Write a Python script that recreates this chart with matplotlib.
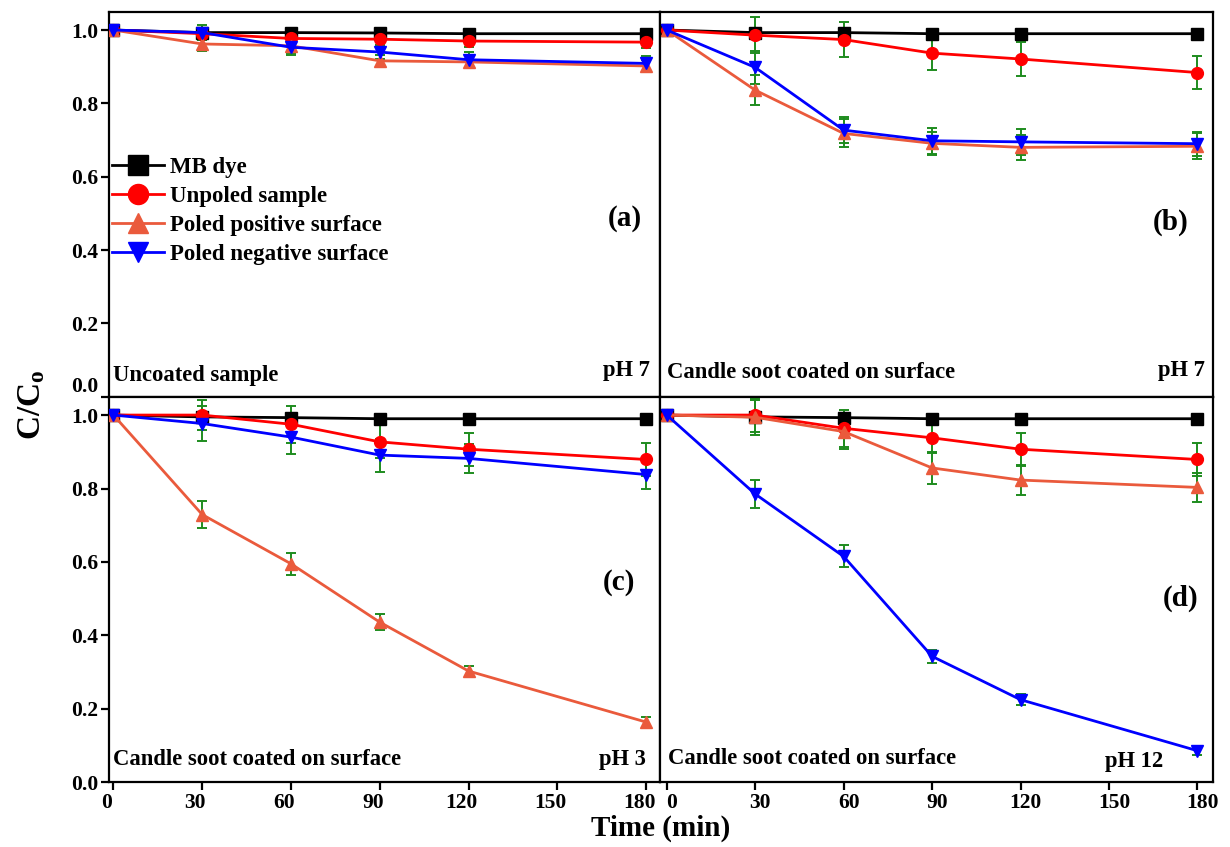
import matplotlib
matplotlib.use("Agg")
import matplotlib.pyplot as plt
import matplotlib.transforms as mtransforms

plt.rcParams['font.family'] = ['Liberation Serif', 'DejaVu Serif']
plt.rcParams['font.weight'] = 'bold'
plt.rcParams['mathtext.fontset'] = 'custom'
plt.rcParams['mathtext.rm'] = 'Liberation Serif:bold'
plt.rcParams['mathtext.it'] = 'Liberation Serif:bold'
plt.rcParams['mathtext.bf'] = 'Liberation Serif:bold'

# ---------------- data ----------------
time = [0, 30, 60, 90, 120, 180]
series_labels = ["MB dye", "Unpoled sample", "Poled positive surface", "Poled negative surface"]
x_ticks = [0, 30, 60, 90, 120, 150, 180]
y_ticks = [0.0, 0.2, 0.4, 0.6, 0.8, 1.0]

a_mb = [1.0, 0.993, 0.993, 0.992, 0.990, 0.990]
a_unpoled = [1.0, 0.990, 0.977, 0.975, 0.970, 0.967]
a_pos = [1.0, 0.962, 0.957, 0.916, 0.913, 0.902]
a_neg = [1.0, 0.993, 0.953, 0.940, 0.919, 0.909]
a_mb_err = [0, 0.005, 0.005, 0.005, 0.005, 0.005]
a_unpoled_err = [0, 0.015, 0.015, 0.015, 0.015, 0.015]
a_pos_err = [0, 0.02, 0.02, 0.015, 0.015, 0.015]
a_neg_err = [0, 0.02, 0.02, 0.02, 0.02, 0.02]

b_mb = [1.0, 0.993, 0.993, 0.990, 0.990, 0.990]
b_unpoled = [1.0, 0.986, 0.974, 0.937, 0.921, 0.884]
b_pos = [1.0, 0.836, 0.718, 0.691, 0.680, 0.683]
b_neg = [1.0, 0.898, 0.727, 0.698, 0.695, 0.690]
b_mb_err = [0, 0.005, 0.005, 0.005, 0.005, 0.005]
b_unpoled_err = [0, 0.05, 0.048, 0.045, 0.046, 0.044]
b_pos_err = [0, 0.041, 0.038, 0.031, 0.035, 0.035]
b_neg_err = [0, 0.045, 0.036, 0.035, 0.036, 0.033]

c_mb = [1.0, 0.995, 0.993, 0.990, 0.990, 0.990]
c_unpoled = [1.0, 1.0, 0.975, 0.927, 0.907, 0.879]
c_pos = [1.0, 0.729, 0.595, 0.436, 0.303, 0.164]
c_neg = [1.0, 0.977, 0.940, 0.891, 0.882, 0.838]
c_mb_err = [0, 0.005, 0.005, 0.005, 0.005, 0.005]
c_unpoled_err = [0, 0.04, 0.05, 0.045, 0.045, 0.045]
c_pos_err = [0, 0.036, 0.03, 0.022, 0.015, 0.015]
c_neg_err = [0, 0.048, 0.045, 0.045, 0.04, 0.04]

d_mb = [1.0, 0.995, 0.993, 0.990, 0.990, 0.990]
d_unpoled = [1.0, 1.0, 0.964, 0.938, 0.907, 0.879]
d_pos = [1.0, 0.994, 0.955, 0.856, 0.823, 0.803]
d_neg = [1.0, 0.785, 0.615, 0.343, 0.225, 0.086]
d_mb_err = [0, 0.005, 0.005, 0.005, 0.005, 0.005]
d_unpoled_err = [0, 0.045, 0.05, 0.04, 0.045, 0.045]
d_pos_err = [0, 0.048, 0.048, 0.043, 0.04, 0.04]
d_neg_err = [0, 0.038, 0.03, 0.017, 0.015, 0.013]

panels = {
    'a': ([a_mb, a_unpoled, a_pos, a_neg], [a_mb_err, a_unpoled_err, a_pos_err, a_neg_err]),
    'b': ([b_mb, b_unpoled, b_pos, b_neg], [b_mb_err, b_unpoled_err, b_pos_err, b_neg_err]),
    'c': ([c_mb, c_unpoled, c_pos, c_neg], [c_mb_err, c_unpoled_err, c_pos_err, c_neg_err]),
    'd': ([d_mb, d_unpoled, d_pos, d_neg], [d_mb_err, d_unpoled_err, d_pos_err, d_neg_err]),
}

colors = ['#000000', '#FF0000', '#EA5A3C', '#0000FF']
markers = ['s', 'o', '^', 'v']
err_color = '#1E8C1E'

# ---------------- layout ----------------
W, H = 1230, 847
fig = plt.figure(figsize=(W / 100, H / 100), dpi=100)

xl, xm, xr = 109.3, 660.0, 1213.3
yt, ym, yb = 11.7, 396.7, 782.3

def fax(x0, x1, y0, y1):
    return fig.add_axes([x0 / W, 1 - y1 / H, (x1 - x0) / W, (y1 - y0) / H])

ax_a = fax(xl, xm, yt, ym)
ax_b = fax(xm, xr, yt, ym)
ax_c = fax(xl, xm, ym, yb)
ax_d = fax(xm, xr, ym, yb)
axes = {'a': ax_a, 'b': ax_b, 'c': ax_c, 'd': ax_d}

TICK_FS = 15.5

for key, ax in axes.items():
    vals, errs = panels[key]
    for v, e, c, m, lab in zip(vals, errs, colors, markers, series_labels):
        ax.errorbar(time, v, yerr=e, fmt='none', ecolor=err_color, elinewidth=1.4,
                    capsize=3.8, capthick=1.4, zorder=2)
        ax.plot(time, v, color=c, marker=m, markersize=8.5, linewidth=2.0,
                label=lab, zorder=3)
    ax.set_ylim(0, 1.05)
    if key in ('a', 'c'):
        ax.set_xlim(-1.4, 184.7)
    else:
        ax.set_xlim(-2.3, 185.4)
    ax.set_xticks(x_ticks)
    ax.set_yticks(y_ticks)
    for s in ax.spines.values():
        s.set_linewidth(1.6)
    ax.tick_params(direction='out', length=6, width=1.6, labelsize=TICK_FS)
    if key in ('a', 'b'):
        ax.tick_params(axis='x', bottom=False, labelbottom=False)
    else:
        ax.tick_params(axis='x', pad=2)
    if key in ('b', 'd'):
        ax.tick_params(axis='y', left=False, labelleft=False)
    else:
        ax.set_yticklabels([f"{t:.1f}" for t in y_ticks])
        ax.tick_params(axis='y', pad=2)
    ax.set_xticklabels([str(t) for t in x_ticks])
    for lbl in ax.get_xticklabels() + ax.get_yticklabels():
        lbl.set_fontweight('bold')

# top-panel "0.0" sits just above the panel boundary (as in the original)
ax_a.get_yticklabels()[0].set_va('bottom')

# x tick labels are slightly offset from their ticks in the original
for ax, dx in ((ax_c, -7), (ax_d, 5)):
    off = mtransforms.ScaledTranslation(dx / 100, 0, fig.dpi_scale_trans)
    for lbl in ax.get_xticklabels():
        lbl.set_transform(lbl.get_transform() + off)

# legend in panel (a)
leg = ax_a.legend(loc='upper left', bbox_to_anchor=(0.004, 0.622), frameon=False,
                  fontsize=16.5, handlelength=2.3, handletextpad=0.25, labelspacing=0.35,
                  borderaxespad=0, borderpad=0, markerscale=1.7)
for t in leg.get_texts():
    t.set_fontweight('bold')

# panel texts
tf = dict(fontsize=16.3, fontweight='bold', va='center')
ax_a.text(0.006, 0.056, "Uncoated sample", ha='left', transform=ax_a.transAxes, **tf)
ax_a.text(0.982, 0.067, "pH 7", ha='right', transform=ax_a.transAxes, **tf)
ax_b.text(0.013, 0.062, "Candle soot coated on surface", ha='left', transform=ax_b.transAxes, **tf)
ax_b.text(0.985, 0.067, "pH 7", ha='right', transform=ax_b.transAxes, **tf)
ax_c.text(0.006, 0.06, "Candle soot coated on surface", ha='left', transform=ax_c.transAxes, **tf)
ax_c.text(0.975, 0.06, "pH 3", ha='right', transform=ax_c.transAxes, **tf)
ax_d.text(0.015, 0.062, "Candle soot coated on surface", ha='left', transform=ax_d.transAxes, **tf)
ax_d.text(0.91, 0.053, "pH 12", ha='right', transform=ax_d.transAxes, **tf)

lf = dict(fontsize=21, fontweight='bold', ha='center', va='center')
ax_a.text(0.936, 0.464, "(a)", transform=ax_a.transAxes, **lf)
ax_b.text(0.922, 0.454, "(b)", transform=ax_b.transAxes, **lf)
ax_c.text(0.925, 0.517, "(c)", transform=ax_c.transAxes, **lf)
ax_d.text(0.94, 0.478, "(d)", transform=ax_d.transAxes, **lf)

fig.text(0.026, 0.522, r"C/C$_\mathrm{o}$", rotation=90, ha='center', va='center',
         fontsize=24, fontweight='bold')
fig.text(0.537, 0.022, "Time (min)", ha='center', va='center', fontsize=21, fontweight='bold')

fig.savefig("out.png", dpi=100)
